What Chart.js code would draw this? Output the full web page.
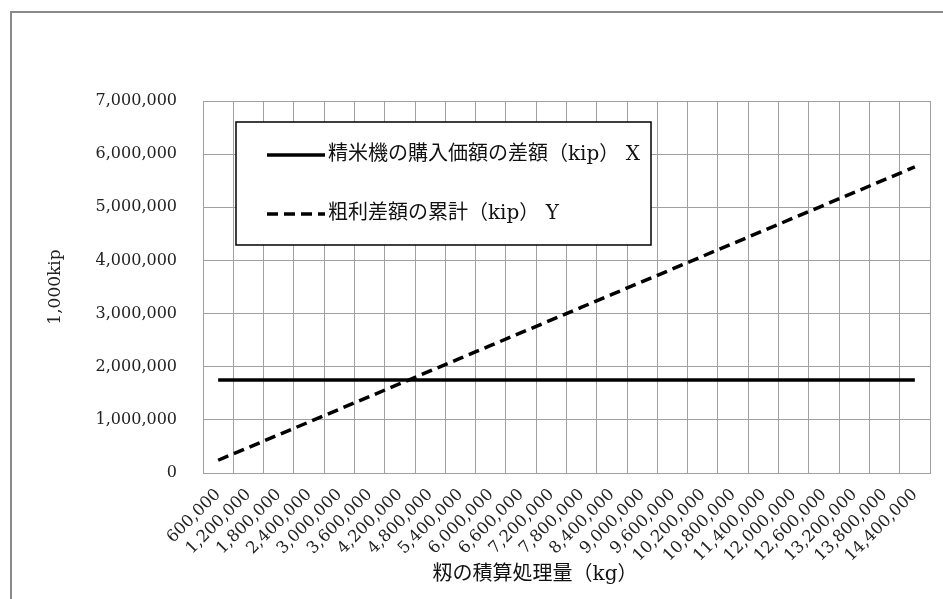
<!DOCTYPE html>
<html>
<head>
<meta charset="utf-8">
<script src="https://cdn.jsdelivr.net/npm/chart.js@4.4.1/dist/chart.umd.min.js"></script>
<style>
    html, body { margin: 0; padding: 0; background: #fff; }
    #wrap { width: 943px; height: 599px; position: relative; }
</style>
</head>
<body>
<div id="wrap"><canvas id="chart" width="943" height="599"></canvas></div>
<script>
// categories on the x axis (kg)
const categories = [
    '600,000', '1,200,000', '1,800,000', '2,400,000', '3,000,000', '3,600,000',
    '4,200,000', '4,800,000', '5,400,000', '6,000,000', '6,600,000', '7,200,000',
    '7,800,000', '8,400,000', '9,000,000', '9,600,000', '10,200,000', '10,800,000',
    '11,400,000', '12,000,000', '12,600,000', '13,200,000', '13,800,000', '14,400,000'
];

// X : difference in purchase price of the rice mill (flat)
const priceDiff = [
    1750000, 1750000, 1750000, 1750000, 1750000, 1750000,
    1750000, 1750000, 1750000, 1750000, 1750000, 1750000,
    1750000, 1750000, 1750000, 1750000, 1750000, 1750000,
    1750000, 1750000, 1750000, 1750000, 1750000, 1750000
];

// Y : cumulative gross profit difference
const profitSum = [
    240000, 480000, 720000, 960000, 1200000, 1440000,
    1680000, 1920000, 2160000, 2400000, 2640000, 2880000,
    3120000, 3360000, 3600000, 3840000, 4080000, 4320000,
    4560000, 4800000, 5040000, 5280000, 5520000, 5760000
];

const seriesLabels = ['精米機の購入価額の差額（kip） X', '粗利差額の累計（kip） Y'];
const yTitle = '1,000kip';
const xTitle = '籾の積算処理量（kg）';

const serif = '"DejaVu Serif", "Liberation Serif", "Noto Sans CJK JP", serif';
const gridGrey = '#a0a0a0';

// frame, legend box and x title drawn on top of the chart
const decorations = {
    id: 'decorations',
    afterDraw(chart) {
        const ctx = chart.ctx;
        ctx.save();

        // outer frame (only top and left are inside the picture)
        ctx.strokeStyle = '#8a8a8a';
        ctx.lineWidth = 2;
        ctx.beginPath();
        ctx.moveTo(11, 599);
        ctx.lineTo(11, 12);
        ctx.lineTo(943, 12);
        ctx.stroke();

        // legend box
        ctx.fillStyle = '#fff';
        ctx.fillRect(236, 122, 415, 123);
        ctx.strokeStyle = '#000';
        ctx.lineWidth = 1.5;
        ctx.strokeRect(236, 122, 415, 123);

        const rows = [155, 214];
        chart.data.datasets.forEach((ds, i) => {
            const y = rows[i];
            ctx.strokeStyle = ds.borderColor;
            ctx.lineWidth = ds.borderWidth;
            ctx.setLineDash(ds.borderDash || []);
            ctx.beginPath();
            ctx.moveTo(267, y);
            ctx.lineTo(325, y);
            ctx.stroke();
            ctx.setLineDash([]);

            ctx.fillStyle = '#111';
            ctx.font = '20px ' + serif;
            ctx.textAlign = 'left';
            ctx.textBaseline = 'middle';
            ctx.fillText(ds.label, 328, y);
        });

        // x axis title
        ctx.fillStyle = '#111';
        ctx.font = '20px ' + serif;
        ctx.textAlign = 'center';
        ctx.textBaseline = 'middle';
        ctx.fillText(xTitle, 535, 575);

        ctx.restore();
    }
};

new Chart(document.getElementById('chart'), {
    type: 'line',
    data: {
        labels: categories,
        datasets: [
            {
                label: seriesLabels[0],
                data: priceDiff,
                borderColor: '#000',
                borderWidth: 3.5,
                pointRadius: 0,
                tension: 0
            },
            {
                label: seriesLabels[1],
                data: profitSum,
                borderColor: '#000',
                borderWidth: 3.5,
                borderDash: [11, 6],
                pointRadius: 0,
                tension: 0
            }
        ]
    },
    options: {
        responsive: false,
        animation: false,
        devicePixelRatio: 1,
        layout: { padding: { left: 0, right: 13, top: 101, bottom: 0 } },
        plugins: {
            legend: { display: false },
            tooltip: { enabled: false }
        },
        scales: {
            x: {
                offset: true,
                grid: { offset: true, color: gridGrey, drawTicks: false },
                border: { color: gridGrey },
                ticks: {
                    autoSkip: false,
                    minRotation: 45,
                    maxRotation: 45,
                    padding: 12,
                    color: '#222',
                    font: { family: serif, size: 16.5 }
                },
                afterFit: scale => { scale.height = 126; }
            },
            y: {
                min: 0,
                max: 7000000,
                grid: { color: gridGrey, drawTicks: false },
                border: { color: gridGrey },
                ticks: {
                    stepSize: 1000000,
                    padding: 26,
                    color: '#222',
                    font: { family: serif, size: 16 },
                    callback: v => v.toLocaleString('en-US')
                },
                title: {
                    display: true,
                    text: yTitle,
                    color: '#222',
                    font: { family: serif, size: 17 },
                    padding: { top: 45, bottom: 0 }
                },
                afterFit: scale => { scale.width = 203; }
            }
        }
    },
    plugins: [decorations]
});
</script>
</body>
</html>
